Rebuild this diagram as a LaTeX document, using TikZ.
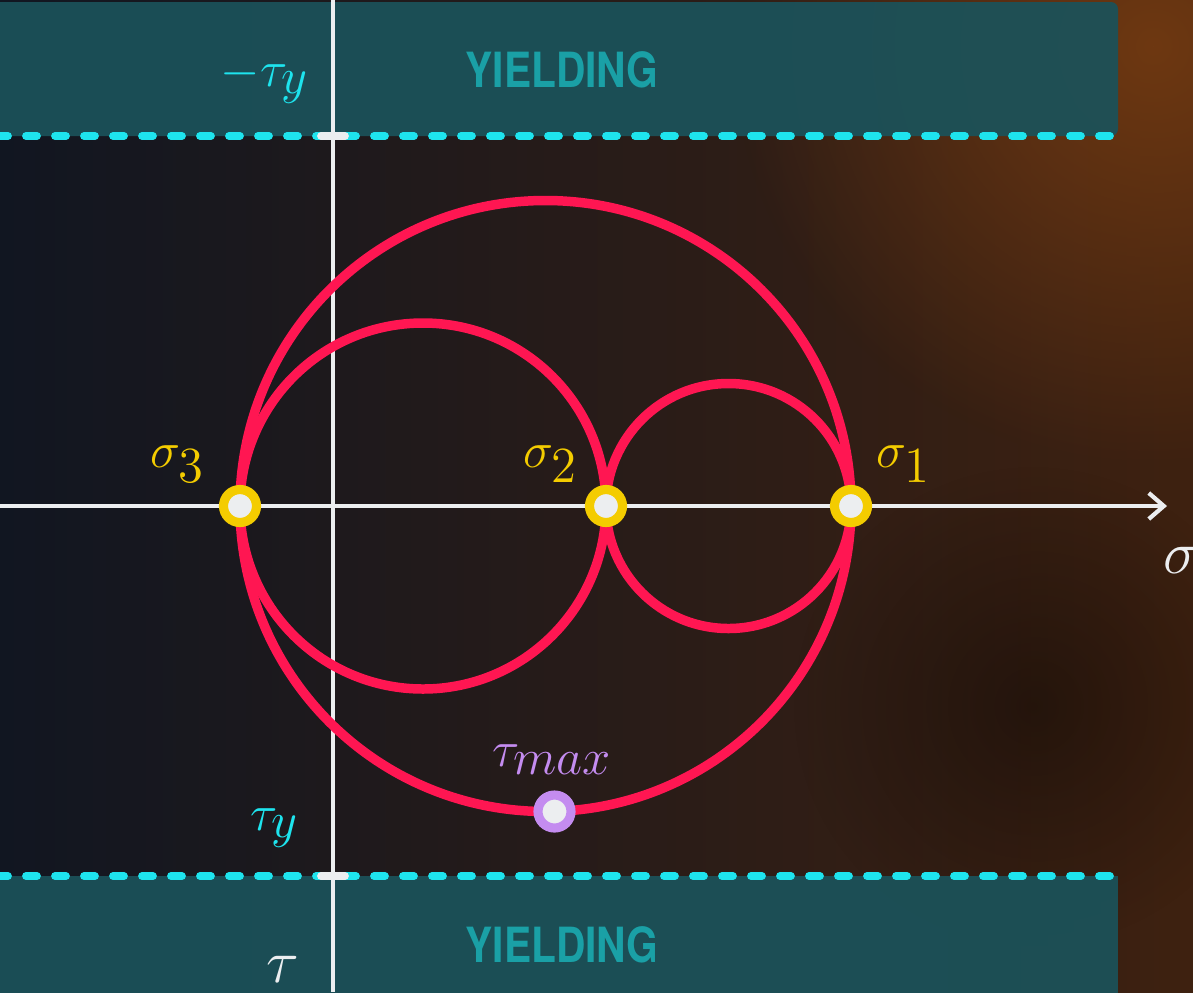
\documentclass[tikz,border=0pt]{standalone}
\usepackage{fontspec}
\usepackage{tikz}
\usetikzlibrary{calc,arrows.meta,fadings}
\newfontfamily\yieldfont[FakeStretch=0.84]{TeX Gyre Heros}
\definecolor{bgleft}{RGB}{17,22,33}
\definecolor{bgmid}{RGB}{26,22,22}
\definecolor{bgright}{RGB}{62,33,16}
\definecolor{glow}{RGB}{110,56,18}
\definecolor{band}{RGB}{27,82,90}
\definecolor{bandtext}{RGB}{26,160,166}
\definecolor{limit}{RGB}{30,228,238}
\definecolor{mohr}{RGB}{255,22,82}
\definecolor{princ}{RGB}{244,204,0}
\definecolor{tmax}{RGB}{196,140,240}
\definecolor{axis}{RGB}{236,238,240}
\tikzfading[name=softspot,inner color=transparent!0,outer color=transparent!100]
\tikzset{
  mcircle/.style={mohr,line width=2.7pt},
  maxis/.style={axis,line width=1.2pt},
  ylimit/.style={limit,line width=2.2pt,line cap=round,dash pattern=on 0.11cm off 0.18cm},
  pdot/.style={circle,draw=princ,fill=axis,line width=2.6pt,minimum size=0.33cm,inner sep=0pt},
  mdot/.style={pdot,draw=tmax},
  mlabel/.style={font=\fontsize{15}{17}\selectfont},
  bandlabel/.style={bandtext,font=\yieldfont\bfseries\fontsize{13.8}{16}\selectfont},
}
\begin{document}
\begin{tikzpicture}
  \def\sa{5.18}
  \def\sb{2.73}
  \def\sc{-0.93}
  \clip (-3.33,-4.86) rectangle (8.60,5.06);
  % background
  \shade[left color=bgleft,middle color=bgmid,right color=bgright]
    (-3.33,-4.86) rectangle (8.60,5.06);
  \fill[glow,path fading=softspot] (8.2,4.6) circle (4.2);
  \fill[black,opacity=0.35,path fading=softspot] (7.0,-2.0) circle (2.4);
  % yield bands
  \fill[band,opacity=0.93,rounded corners=2pt] (-3.40,3.70) rectangle (7.85,5.04);
  \fill[band,opacity=0.93] (-3.40,-3.70) rectangle (7.85,-4.95);
  \node[bandlabel] (yt) at (2.29,4.36) {YIELDING};
  \node[bandlabel] (yb) at (2.29,-4.39) {YIELDING};
  \draw[ylimit] (-3.36,3.70) -- (7.80,3.70);
  \draw[ylimit] (-3.36,-3.70) -- (7.80,-3.70);
  % axes
  \coordinate (xl) at (-3.33,0);
  \coordinate (xr) at (8.34,0);
  \coordinate (vt) at (0,5.06);
  \coordinate (vb) at (0,-4.86);
  \draw[maxis] (vt) -- (vb);
  \draw[maxis,-{Straight Barb[length=1.5mm,width=2.6mm]}] (xl) -- (xr);
  \draw[axis,line width=2.2pt,line cap=round] (-0.12,3.70) -- (0.12,3.70);
  \draw[axis,line width=2.2pt,line cap=round] (-0.12,-3.70) -- (0.12,-3.70);
  % Mohr circles
  \draw[mcircle] ({(\sc+\sa)/2},0) circle ({(\sa-\sc)/2});
  \draw[mcircle] ({(\sc+\sb)/2},0) circle ({(\sb-\sc)/2});
  \draw[mcircle] ({(\sb+\sa)/2},0) circle ({(\sa-\sb)/2});
  % points
  \node[pdot] (s3) at (\sc,0) {};
  \node[pdot] (s2) at (\sb,0) {};
  \node[pdot] (s1) at (\sa,0) {};
  \node[mdot] (tm) at ({(\sc+\sa)/2+0.09},{-(\sa-\sc)/2}) {};
  \node[mlabel,princ] at ($(s3)+(-0.62,0.42)$) {$\sigma_{\textstyle 3}$};
  \node[mlabel,princ] at ($(s2)+(-0.55,0.42)$) {$\sigma_{\textstyle 2}$};
  \node[mlabel,princ] at ($(s1)+(0.53,0.42)$) {$\sigma_{\textstyle 1}$};
  \node[mlabel,tmax] at ($(tm)+(-0.02,0.52)$) {$\tau_{\textstyle max}$};
  \node[mlabel,limit] at (-0.68,4.26) {$-\tau_{\textstyle y}$};
  \node[mlabel,limit] at (-0.58,-3.22) {$\tau_{\textstyle y}$};
  \node[axis,font=\fontsize{18}{20}\selectfont,anchor=west] at (8.18,-0.54) {$\sigma$};
  \node[axis,font=\fontsize{18}{20}\selectfont,anchor=north] at (-0.50,-4.38) {$\tau$};
\end{tikzpicture}
\end{document}
